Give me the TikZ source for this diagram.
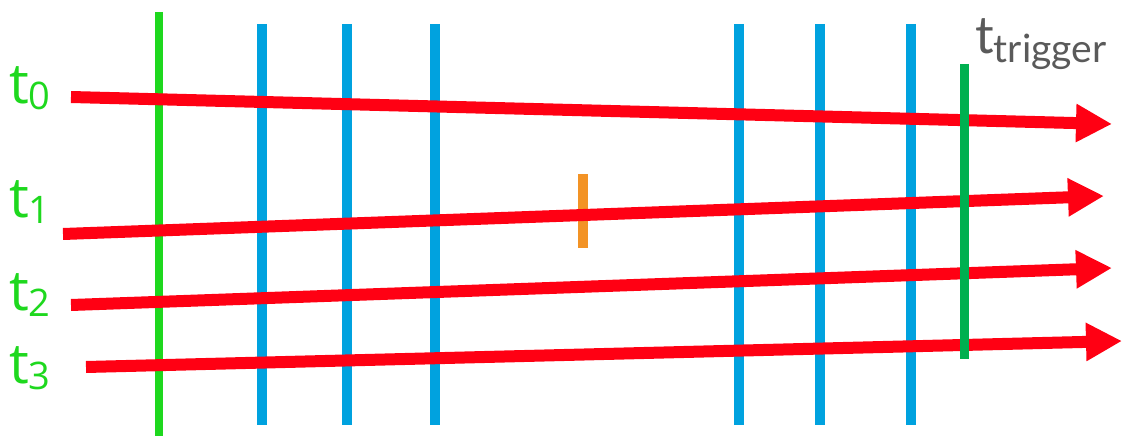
\documentclass[tikz,border=0pt]{standalone}
\usepackage{fontspec}
\setmainfont{Open Sans}
\newfontfamily\latofont{Lato}
\usetikzlibrary{arrows.meta}
\definecolor{verdeT}{HTML}{1ED81E}
\definecolor{verdeTrig}{HTML}{00B050}
\definecolor{azulCapa}{HTML}{00A2DF}
\definecolor{naranjaHit}{HTML}{F39325}
\definecolor{rojoTraza}{HTML}{FF0013}
\definecolor{grisTexto}{HTML}{5A5A5A}

\begin{document}
\begin{tikzpicture}[x=1pt,y=-1pt,
    capa/.style={azulCapa,line width=10pt},
    traza/.style={rojoTraza,line width=12pt,
      -{Triangle[length=36pt,width=36pt]}},
    etiqueta/.style={verdeT,inner sep=0pt,anchor=base west,
      font=\fontsize{56}{56}\selectfont}]
  \useasboundingbox (0,0) rectangle (1122,436);
  % capas del detector
  \draw[verdeT,line width=8pt] (159,12) -- (159,436);
  \foreach \xc in {262,347,435,739,820,911}
    \draw[capa] (\xc,24) -- (\xc,425);
  \draw[naranjaHit,line width=10pt] (583,174) -- (583,248);
  % trazas
  \coordinate (ini0) at (71,97);   \coordinate (fin0) at (1112,124);
  \coordinate (ini1) at (63,234);  \coordinate (fin1) at (1104,196);
  \coordinate (ini2) at (71,305);  \coordinate (fin2) at (1112,268);
  \coordinate (ini3) at (86,367);  \coordinate (fin3) at (1122,341);
  \foreach \i in {0,...,3}
    \draw[traza] (ini\i) -- (fin\i);
  \draw[verdeTrig,line width=9pt] (964,64) -- (964,359);
  % etiquetas
  \node[etiqueta] (t0) at (9,103) {t\raisebox{-6pt}{\fontsize{38}{38}\selectfont 0}};
  \node[etiqueta] (t1) at (9,217) {t\raisebox{-6pt}{\fontsize{38}{38}\selectfont 1}};
  \node[etiqueta] (t2) at (9,310) {t\raisebox{-6pt}{\fontsize{38}{38}\selectfont 2}};
  \node[etiqueta] (t3) at (9,383) {t\raisebox{-6pt}{\fontsize{38}{38}\selectfont 3}};
  \node[grisTexto,inner sep=0pt,anchor=base west,
    font=\latofont\fontsize{52}{52}\selectfont] (trig) at (975,54)
    {t\raisebox{-9pt}{\fontsize{39}{39}\selectfont trigger}};
\end{tikzpicture}
\end{document}
